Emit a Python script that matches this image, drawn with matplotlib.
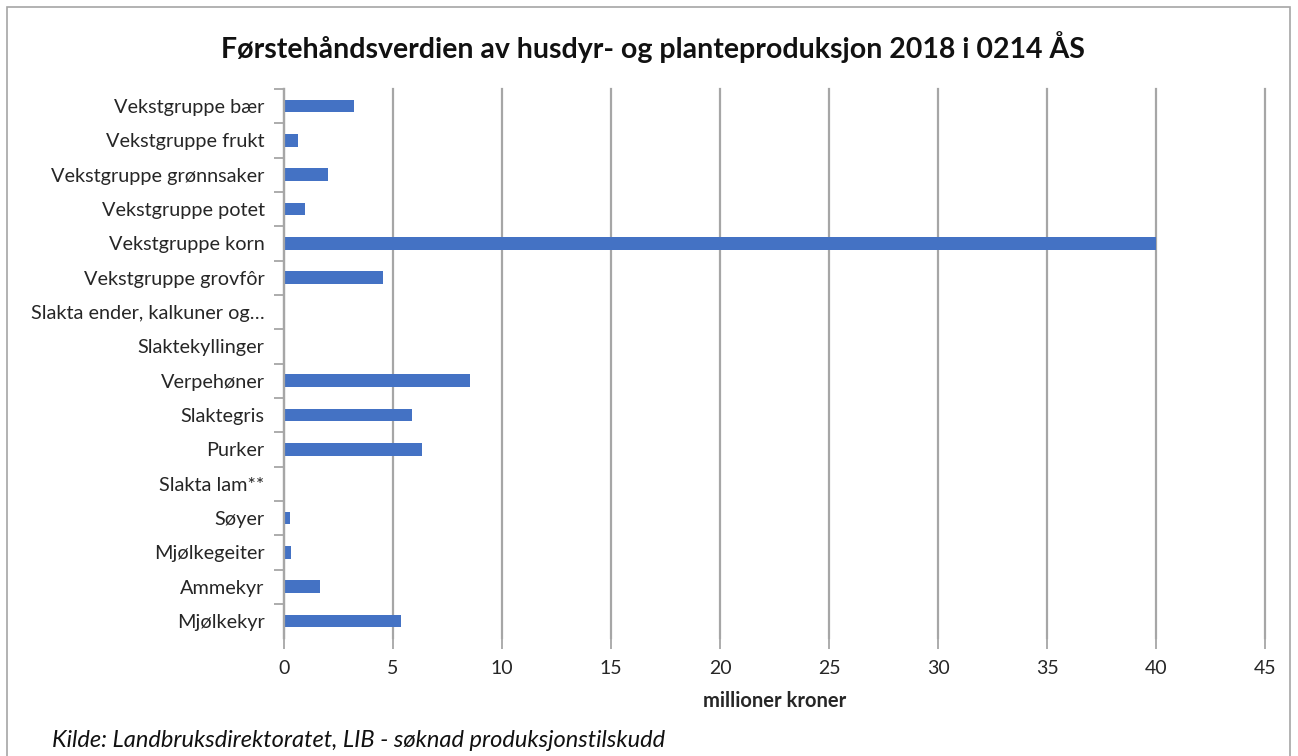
import matplotlib.pyplot as plt
from matplotlib.patches import Rectangle
from matplotlib.ticker import MultipleLocator

plt.rcParams['font.family'] = ['Lato', 'DejaVu Sans']

# kategorier fra topp til bunn
kategorier = [
    "Vekstgruppe bær",
    "Vekstgruppe frukt",
    "Vekstgruppe grønnsaker",
    "Vekstgruppe potet",
    "Vekstgruppe korn",
    "Vekstgruppe grovfôr",
    "Slakta ender, kalkuner og…",
    "Slaktekyllinger",
    "Verpehøner",
    "Slaktegris",
    "Purker",
    "Slakta lam**",
    "Søyer",
    "Mjølkegeiter",
    "Ammekyr",
    "Mjølkekyr",
]
# millioner kroner
verdier = [3.23, 0.64, 2.02, 0.95, 40.0, 4.53, 0.0, 0.0,
           8.55, 5.89, 6.33, 0.0, 0.26, 0.34, 1.64, 5.35]

tittel = "Førstehåndsverdien av husdyr- og planteproduksjon 2018 i 0214 ÅS"
kilde = "Kilde: Landbruksdirektoratet, LIB - søknad produksjonstilskudd"

fig = plt.figure(figsize=(12.98, 7.56), dpi=100)
ax = fig.add_axes([0.2188, 0.1558, 0.9746 - 0.2188, 0.8825 - 0.1558])

pos = list(range(len(kategorier)))
ax.barh(pos, verdier, height=0.37, color="#4472C4", zorder=3)

ax.set_ylim(len(kategorier) - 0.5, -0.5)
ax.set_xlim(0, 45)
ax.xaxis.set_major_locator(MultipleLocator(5))
ax.set_yticks(pos)
ax.set_yticklabels(kategorier, fontsize=14.3, color="#262626")
ax.set_yticks([p + 0.5 for p in pos[:-1]] + [-0.5], minor=True)
ax.tick_params(axis="y", which="major", length=0, pad=14)
ax.tick_params(axis="y", which="minor", length=7, width=1.3, color="#a6a6a6")
ax.tick_params(axis="x", length=8, width=1.3, color="#a6a6a6",
               labelsize=14, labelcolor="#262626", pad=8)

ax.grid(axis="x", color="#a6a6a6", linewidth=1.6, zorder=0)
for gl in ax.get_xgridlines():
    gl.set_clip_on(False)
for s in ["top", "right", "bottom"]:
    ax.spines[s].set_visible(False)
ax.spines["left"].set_color("#a6a6a6")
ax.spines["left"].set_linewidth(1.6)
ax.spines["left"].set_zorder(4)

ax.set_xlabel("millioner kroner", fontsize=14.5, fontweight="bold",
              color="#262626", labelpad=10)

fig.text(0.5027, 0.938, tittel, ha="center", va="center",
         fontsize=20.5, fontweight="bold", color="#111111")
fig.text(0.040, 0.021, kilde, ha="left", va="center",
         fontsize=17, style="italic", color="#111111")

# ramme rundt hele diagrammet
fig.add_artist(Rectangle((7 / 1298, -0.02), (1290 - 7) / 1298, 1.02 - 7 / 756,
                         transform=fig.transFigure, fill=False,
                         edgecolor="#a6a6a6", linewidth=1.2))

fig.savefig("out.png", dpi=100, facecolor="white")
